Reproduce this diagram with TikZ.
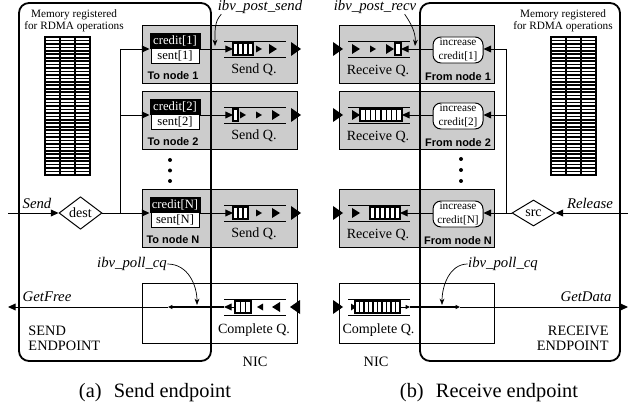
\documentclass[tikz,border=0pt]{standalone}
\usepackage{fontspec}
\setmainfont{Liberation Serif}
\newfontfamily\tagsans{Liberation Sans}
\usetikzlibrary{arrows.meta,shapes.geometric}

\begin{document}
\begin{tikzpicture}[x=.25mm,y=-.25mm,line width=.7pt,
  arr/.style={-{Triangle[length=1.9mm,width=1.7mm]}},
  tinyarr/.style={-{Triangle[length=1.1mm,width=1mm]}},
  callarr/.style={line width=.5pt,-{Stealth[length=1.6mm,width=1.2mm]}},
  endpoint/.style={line width=1.3pt,rounded corners=2.5mm},
  qcell/.style={line width=.9pt},
  memgrid/.style={line width=1.15pt},
  gbox/.style={draw,fill=black!20,inner sep=0pt,minimum width=38.75mm,minimum height=14.5mm},
  nicbox/.style={draw,fill=white,inner sep=0pt,minimum width=38.75mm,minimum height=15mm},
  creditbox/.style={draw,fill=black,text=white,inner sep=0pt,minimum width=12.5mm,minimum height=3.75mm,font=\fontsize{9}{10}\selectfont},
  sentbox/.style={draw,fill=white,inner sep=0pt,minimum width=12mm,minimum height=3.75mm,font=\fontsize{9}{10}\selectfont},
  incbox/.style={draw,fill=white,rounded corners=2mm,inner sep=0pt,minimum width=12.5mm,minimum height=6.5mm,align=center,font=\fontsize{8}{10}\selectfont},
  choice/.style={diamond,draw,fill=white,inner sep=0pt,minimum width=10.75mm,minimum height=6.5mm,font=\fontsize{10}{12}\selectfont},
  tagtxt/.style={inner sep=0pt,font=\tagsans\bfseries\fontsize{7.8}{9}\selectfont},
  qname/.style={inner sep=0pt,font=\fontsize{10}{12}\selectfont},
  calltxt/.style={inner sep=0pt,font=\itshape\fontsize{10.5}{12}\selectfont},
  plaintxt/.style={inner sep=0pt,font=\fontsize{10.2}{10.7}\selectfont},
  memtxt/.style={inner sep=0pt,align=center,font=\fontsize{8}{8.8}\selectfont},
  capt/.style={inner sep=0pt,font=\fontsize{14.5}{16}\selectfont}]
\path[use as bounding box] (0,0) rectangle (639,410);
% ---- (a) send endpoint ----
\node[gbox] (tn1) at (219.5,54) {};
\node[gbox] (tn2) at (219.5,120) {};
\node[gbox] (tnN) at (219.5,218) {};
\node[nicbox] (nicS) at (219.5,313) {};
\node[memtxt] (memS) at (74,21) {Memory registered\\for RDMA operations};
\draw[memgrid,fill=white] (45,37) rectangle (90,175);
\draw[memgrid] (60,37) -- (60,175) (75,37) -- (75,175);
\foreach \k in {1,...,39} \draw[memgrid] (45,{37+3.45*\k}) -- (90,{37+3.45*\k});
\draw[endpoint] (19,3) rectangle (211,361);
\node[creditbox] (cred1) at (175,41) {credit[1]};
\node[sentbox] (sent1) at (175,56) {sent[1]};
\node[tagtxt] (to1) at (173,76) {To node 1};
\node[creditbox] (cred2) at (175,107) {credit[2]};
\node[sentbox] (sent2) at (175,122) {sent[2]};
\node[tagtxt] (to2) at (173,142) {To node 2};
\node[creditbox] (credN) at (175,205) {credit[N]};
\node[sentbox] (sentN) at (175,220) {sent[N]};
\node[tagtxt] (toN) at (173,240) {To node N};
\fill (170,160) circle (2) (170,170.5) circle (2) (170,181) circle (2);
% send queue 1
\draw (224,41) -- (286,41) (224,57) -- (286,57);
\draw[qcell,fill=white] (233,43) rectangle (253,55);
\foreach \x in {238,243,248} \draw[qcell] (\x,43) -- (\x,55);
\fill (256,45.5) -- (262,49) -- (256,52.5) -- cycle;
\fill (269,44) -- (277,49) -- (269,54) -- cycle;
\fill (291,42) -- (301,49) -- (291,56) -- cycle;
% send queue 2
\draw (224,107) -- (286,107) (224,123) -- (286,123);
\draw[qcell,fill=white] (233,109) rectangle (238,121);
\fill (240,111.5) -- (246,115) -- (240,118.5) -- cycle;
\fill (256,111.5) -- (262,115) -- (256,118.5) -- cycle;
\fill (272,110) -- (280,115) -- (272,120) -- cycle;
\fill (291,108) -- (301,115) -- (291,122) -- cycle;
% send queue N
\draw (224,205) -- (286,205) (224,221) -- (286,221);
\draw[qcell,fill=white] (233,207) rectangle (248,219);
\foreach \x in {238,243} \draw[qcell] (\x,207) -- (\x,219);
\fill (256,209.5) -- (262,213) -- (256,216.5) -- cycle;
\fill (272,208) -- (280,213) -- (272,218) -- cycle;
\fill (291,206) -- (301,213) -- (291,220) -- cycle;
% complete queue (send)
\draw (224,299) -- (286,299) (224,315) -- (286,315);
\draw[qcell,fill=white] (235,301) rectangle (251,313);
\foreach \x in {240.3,245.7} \draw[qcell] (\x,301) -- (\x,313);
\fill (263,303.5) -- (257,307) -- (263,310.5) -- cycle;
\fill (280,302) -- (272,307) -- (280,312) -- cycle;
\fill (300,300) -- (290,307) -- (300,314) -- cycle;
\node[qname] (sqname1) at (254,70) {Send Q.};
\node[qname] (sqname2) at (254,136) {Send Q.};
\node[qname] (sqnameN) at (254,234) {Send Q.};
\node[qname] (cqnameS) at (254,330) {Complete Q.};
% connectors
\node[choice] (dest) at (80.5,213) {dest};
\coordinate (sendin) at (8,213);
\coordinate (bus1) at (120,49);
\coordinate (bus2) at (120,115);
\coordinate (busN) at (120,213);
\coordinate (sq1) at (233,49);
\coordinate (sq2) at (233,115);
\coordinate (sqN) at (233,213);
\draw[arr] (sendin) -- (dest);
\draw[arr] (dest) -- (dest -| credN.west);
\draw (bus1) -- (busN);
\draw[arr] (bus1) -- (bus1 -| cred1.west);
\draw[arr] (bus2) -- (bus2 -| cred2.west);
\draw[arr] (sent1.east |- sq1) -- (sq1);
\draw[arr] (sent2.east |- sq2) -- (sq2);
\draw[arr] (sentN.east |- sqN) -- (sqN);
\node[calltxt] (sendlbl) at (37,203) {Send};
\coordinate (cqs) at (224,307);
\coordinate (polls) at (168,307);
\coordinate (getfree) at (8,307);
\draw[arr] (235,307) -- (cqs);
\draw[line width=1.2pt,tinyarr] (cqs) -- (polls);
\draw[arr] (polls) -- (getfree);
\node[calltxt] (getfreelbl) at (47,297) {GetFree};
\node[calltxt] (postsend) at (260,7) {ibv\_post\_send};
\coordinate (pstip) at (215,46);
\draw[callarr] ([xshift=1mm]postsend.south west) .. controls (214,22) and (215,32) .. (pstip);
\node[calltxt] (pollS) at (132,264) {ibv\_poll\_cq};
\coordinate (pqtipS) at (197,305);
\draw[callarr] (pollS.east) .. controls (188,264) and (197,285) .. (pqtipS);
\node[plaintxt,align=left,anchor=west] (sendep) at (28,338) {SEND\\ENDPOINT};
\node[plaintxt] (niclblS) at (255,362) {NIC};
\node[capt] (capa) at (155,393) {(a)\hspace{.6em}Send endpoint};
% ---- (b) receive endpoint ----
\node[gbox] (fn1) at (416.5,54) {};
\node[gbox] (fn2) at (416.5,120) {};
\node[gbox] (fnN) at (416.5,218) {};
\node[nicbox] (nicR) at (416.5,313) {};
\node[memtxt] (memR) at (563,21) {Memory registered\\for RDMA operations};
\draw[memgrid,fill=white] (551,37) rectangle (596,175);
\draw[memgrid] (566,37) -- (566,175) (581,37) -- (581,175);
\foreach \k in {1,...,39} \draw[memgrid] (551,{37+3.45*\k}) -- (596,{37+3.45*\k});
\draw[endpoint] (420,3) rectangle (620,361);
\node[incbox] (inc1) at (458,50) {increase\\credit[1]};
\node[tagtxt] (from1) at (458,77) {From node 1};
\node[incbox] (inc2) at (458,116) {increase\\credit[2]};
\node[tagtxt] (from2) at (458,143) {From node 2};
\node[incbox] (incN) at (458,214) {increase\\credit[N]};
\node[tagtxt] (fromN) at (458,241) {From node N};
\fill (461,159) circle (2) (461,170) circle (2) (461,181) circle (2);
% receive queue 1
\draw (348,41) -- (410,41) (348,57) -- (410,57);
\fill (333,42) -- (343,49) -- (333,56) -- cycle;
\fill (352,44) -- (360,49) -- (352,54) -- cycle;
\fill (370,45.5) -- (376,49) -- (370,52.5) -- cycle;
\fill (386,44) -- (394,49) -- (386,54) -- cycle;
\draw[qcell,fill=white] (395,43) rectangle (401,55);
% receive queue 2
\draw (348,107) -- (410,107) (348,123) -- (410,123);
\fill (333,108) -- (343,115) -- (333,122) -- cycle;
\fill (352,110) -- (360,115) -- (352,120) -- cycle;
\draw[qcell,fill=white] (360,109) rectangle (402,121);
\foreach \k in {1,...,7} \draw[qcell] ({360+5.25*\k},109) -- ({360+5.25*\k},121);
% receive queue N
\draw (348,205) -- (410,205) (348,221) -- (410,221);
\fill (333,206) -- (343,213) -- (333,220) -- cycle;
\fill (352,208) -- (360,213) -- (352,218) -- cycle;
\draw[qcell,fill=white] (370,207) rectangle (400,219);
\foreach \x in {375,380,385,390,395} \draw[qcell] (\x,207) -- (\x,219);
% complete queue (receive)
\draw (348,299) -- (410,299) (348,315) -- (410,315);
\fill (333,300) -- (343,307) -- (333,314) -- cycle;
\fill (351,303.5) -- (356,307) -- (351,310.5) -- cycle;
\draw[qcell,fill=white] (355,301) rectangle (400,313);
\foreach \k in {0,...,8} \draw[qcell] ({359.5+4.5*\k},301) -- ({359.5+4.5*\k},313);
\node[qname] (rqname1) at (378,71) {Receive Q.};
\node[qname] (rqname2) at (378,137) {Receive Q.};
\node[qname] (rqnameN) at (378,235) {Receive Q.};
\node[qname] (cqnameR) at (378.5,330) {Complete Q.};
% connectors
\node[choice] (src) at (533.5,213) {src};
\coordinate (relin) at (628,213);
\coordinate (rbus1) at (506,49);
\coordinate (rbus2) at (506,115);
\coordinate (rbusN) at (506,213);
\coordinate (rq1) at (401,49);
\coordinate (rq2) at (402,115);
\coordinate (rqN) at (400,213);
\draw[arr] (relin) -- (src);
\draw[arr] (src) -- (src -| incN.east);
\draw (rbus1) -- (rbusN);
\draw[arr] (rbus1) -- (rbus1 -| inc1.east);
\draw[arr] (rbus2) -- (rbus2 -| inc2.east);
\draw[arr] (inc1.west |- rq1) -- (rq1);
\draw[arr] (inc2.west |- rq2) -- (rq2);
\draw[arr] (incN.west |- rqN) -- (rqN);
\node[calltxt] (releaselbl) at (590,203) {Release};
\coordinate (cqr) at (410,307);
\coordinate (pollr) at (460,307);
\coordinate (getdata) at (628,307);
\draw[tinyarr] (400,307) -- (cqr);
\draw[line width=1.2pt,tinyarr] (cqr) -- (pollr);
\draw[arr] (pollr) -- (getdata);
\node[calltxt] (getdatalbl) at (586,297) {GetData};
\node[calltxt] (postrecv) at (375,7) {ibv\_post\_recv};
\coordinate (prtip) at (415,46);
\draw[callarr] ([xshift=-3mm]postrecv.south east) .. controls (410,22) and (416,32) .. (prtip);
\node[calltxt] (pollR) at (503,264) {ibv\_poll\_cq};
\coordinate (pqtipR) at (442,305);
\draw[callarr] (pollR.west) .. controls (450,264) and (442,285) .. (pqtipR);
\node[plaintxt,align=right,anchor=east] (recvep) at (609,338) {RECEIVE\\ENDPOINT};
\node[plaintxt] (niclblR) at (376,362) {NIC};
\node[capt] (capb) at (489,393) {(b)\hspace{.6em}Receive endpoint};
\end{tikzpicture}
\end{document}
